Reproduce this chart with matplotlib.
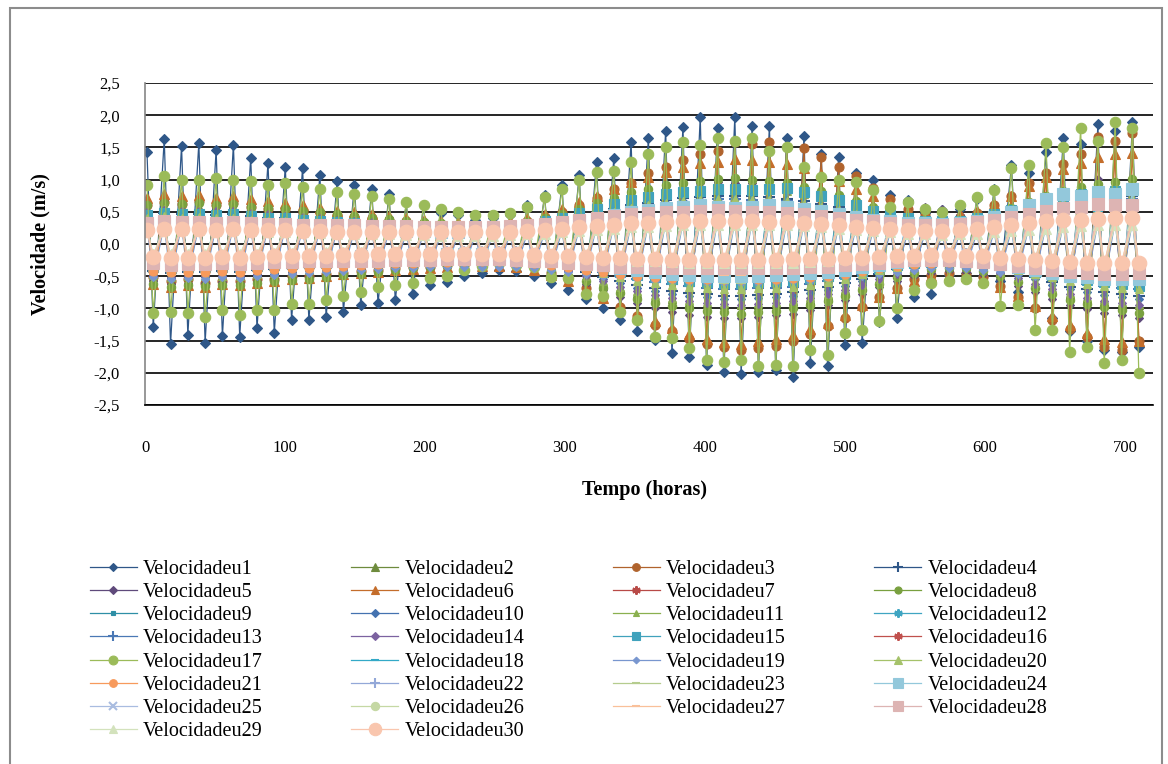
import numpy as np
import matplotlib.pyplot as plt
from matplotlib.patches import Rectangle

plt.rcParams['font.family'] = ['Liberation Serif', 'DejaVu Serif']

# extremos de cada ciclo de maré (cheia, vazante), em centésimos de m/s
u1 = [143, -129, 163, -155, 152, -141, 157, -153, 146, -143, 154, -144, 134, -131, 126, -138, 120, -118, 118, -118,
      107, -113, 98, -105, 92, -95, 85, -92, 78, -87, 65, -77, 60, -64, 48, -59, 45, -50, 37, -45,
      40, -40, 45, -42, 60, -50, 76, -60, 92, -72, 107, -85, 127, -100, 133, -118, 158, -135, 164, -149,
      176, -170, 182, -175, 197, -188, 180, -198, 197, -202, 183, -198, 183, -195, 164, -207, 168, -185, 140, -190,
      135, -157, 110, -154, 99, -121, 76, -115, 68, -82, 48, -77, 53, -48, 55, -45, 70, -50, 85, -58,
      122, -75, 110, -100, 143, -115, 164, -135, 155, -150, 186, -165, 175, -168, 190, -160]
u2 = [55, -50, 59, -54, 57, -52, 58, -53, 56, -51, 57, -52, 54, -49, 51, -47, 49, -45, 47, -44,
      45, -42, 42, -40, 40, -38, 38, -36, 36, -34, 33, -32, 31, -30, 30, -29, 28, -28, 27, -27,
      27, -27, 28, -28, 32, -32, 36, -37, 42, -44, 50, -52, 58, -60, 65, -68, 72, -76, 77, -82,
      82, -86, 86, -90, 88, -93, 90, -95, 90, -95, 89, -94, 87, -92, 85, -89, 80, -85, 75, -79,
      68, -72, 60, -64, 52, -55, 44, -47, 38, -40, 33, -35, 32, -33, 32, -34, 36, -38, 42, -45,
      50, -53, 58, -62, 67, -70, 74, -78, 79, -84, 84, -88, 87, -92, 90, -95]
u3 = [60, -52, 65, -58, 62, -55, 66, -60, 60, -57, 63, -58, 58, -55, 55, -54, 55, -50, 50, -50,
      48, -47, 45, -45, 42, -42, 40, -40, 38, -38, 35, -36, 33, -35, 30, -33, 30, -32, 28, -30,
      28, -30, 30, -32, 35, -36, 42, -45, 50, -55, 60, -68, 72, -82, 85, -98, 95, -112, 110, -125,
      120, -135, 130, -148, 140, -156, 145, -160, 158, -165, 155, -162, 158, -158, 150, -150, 149, -140, 135, -128,
      120, -115, 105, -98, 87, -82, 70, -68, 55, -55, 45, -48, 40, -45, 42, -46, 48, -52, 60, -65,
      75, -82, 95, -100, 110, -118, 125, -132, 140, -145, 166, -160, 160, -165, 172, -150]
u4 = [45, -42, 48, -45, 46, -43, 47, -44, 45, -42, 46, -43, 43, -41, 41, -39, 40, -37, 38, -36,
      36, -34, 34, -32, 32, -31, 30, -29, 29, -28, 27, -26, 25, -25, 24, -24, 22, -23, 22, -22,
      22, -22, 23, -23, 26, -27, 30, -31, 35, -37, 41, -44, 48, -51, 54, -58, 60, -64, 64, -69,
      68, -73, 71, -76, 73, -78, 75, -80, 75, -80, 74, -79, 73, -78, 70, -75, 67, -71, 62, -66,
      57, -61, 50, -54, 43, -46, 37, -39, 32, -34, 28, -30, 26, -28, 27, -29, 30, -32, 35, -38,
      42, -45, 49, -52, 55, -59, 61, -66, 66, -70, 70, -74, 73, -78, 75, -80]
u5 = [62, -58, 66, -62, 64, -60, 65, -61, 63, -59, 64, -60, 60, -57, 57, -55, 55, -53, 53, -51,
      50, -49, 47, -47, 45, -45, 42, -43, 40, -41, 37, -39, 35, -37, 33, -36, 31, -34, 30, -33,
      30, -33, 31, -34, 35, -38, 40, -45, 47, -53, 55, -62, 64, -72, 72, -82, 80, -92, 86, -99,
      90, -105, 93, -110, 95, -113, 96, -115, 95, -115, 94, -114, 92, -111, 89, -108, 85, -102, 79, -95,
      72, -87, 64, -77, 56, -67, 48, -57, 42, -49, 57, -45, 55, -42, 45, -43, 40, -47, 45, -55,
      54, -65, 63, -75, 72, -85, 80, -94, 86, -101, 101, -107, 95, -111, 98, -115]
u6 = [72, -62, 78, -66, 74, -63, 76, -66, 72, -62, 74, -64, 70, -60, 66, -58, 63, -55, 60, -53,
      56, -50, 52, -47, 50, -45, 47, -43, 44, -41, 40, -39, 38, -38, 36, -36, 34, -35, 33, -34,
      33, -34, 35, -35, 40, -40, 47, -48, 55, -58, 65, -70, 75, -84, 86, -96, 96, -108, 104, -120,
      112, -130, 120, -140, 126, -148, 128, -152, 132, -155, 130, -150, 128, -148, 124, -142, 118, -132, 108, -122,
      98, -110, 86, -95, 74, -82, 62, -68, 52, -57, 46, -50, 44, -48, 46, -50, 52, -56, 62, -66,
      75, -80, 90, -96, 104, -112, 116, -126, 126, -138, 135, -148, 140, -152, 142, -150]
u7 = [35, -32, 37, -34, 36, -33, 37, -34, 35, -33, 36, -33, 34, -32, 32, -30, 31, -29, 30, -28,
      28, -27, 27, -26, 25, -24, 24, -23, 23, -22, 21, -21, 20, -20, 19, -19, 18, -18, 17, -17,
      17, -17, 18, -18, 20, -21, 23, -24, 27, -29, 31, -34, 36, -39, 40, -44, 44, -48, 47, -52,
      50, -55, 52, -57, 54, -59, 55, -60, 55, -60, 54, -59, 53, -58, 52, -57, 49, -53, 46, -50,
      42, -46, 37, -41, 32, -35, 27, -30, 23, -26, 21, -23, 20, -22, 20, -22, 22, -24, 26, -28,
      31, -34, 36, -39, 41, -44, 45, -49, 48, -53, 51, -56, 53, -58, 55, -60]
u8 = [60, -62, 64, -66, 62, -64, 63, -65, 61, -63, 62, -64, 58, -60, 56, -58, 54, -56, 52, -54,
      49, -51, 46, -48, 44, -46, 41, -43, 39, -41, 36, -38, 34, -36, 32, -34, 30, -32, 29, -31,
      29, -31, 30, -32, 34, -36, 40, -42, 47, -50, 55, -58, 64, -68, 72, -76, 80, -85, 86, -91,
      91, -96, 95, -100, 98, -104, 101, -106, 102, -108, 100, -106, 98, -104, 94, -99, 89, -94, 83, -88,
      76, -80, 67, -71, 58, -62, 49, -52, 42, -45, 37, -39, 35, -37, 36, -38, 40, -42, 47, -50,
      56, -59, 65, -69, 74, -78, 82, -87, 88, -93, 93, -98, 97, -102, 101, -107]
u9 = [40, -38, 43, -41, 42, -40, 42, -40, 41, -39, 42, -40, 39, -37, 37, -35, 36, -34, 35, -33,
      33, -31, 31, -29, 29, -28, 27, -26, 26, -25, 24, -23, 23, -22, 21, -21, 20, -20, 20, -19,
      20, -19, 21, -20, 24, -23, 28, -27, 33, -32, 38, -37, 45, -43, 50, -48, 56, -54, 60, -58,
      64, -61, 66, -64, 69, -66, 70, -67, 70, -67, 69, -66, 68, -65, 66, -63, 62, -60, 58, -56,
      53, -51, 47, -45, 41, -39, 34, -33, 29, -28, 26, -25, 25, -24, 25, -24, 28, -27, 33, -32,
      39, -38, 46, -44, 52, -50, 57, -55, 62, -59, 65, -62, 68, -65, 70, -67]
u10 = [45, -50, 48, -53, 46, -51, 47, -52, 45, -50, 46, -51, 43, -48, 41, -46, 40, -44, 38, -42,
       36, -40, 34, -38, 32, -36, 30, -34, 29, -32, 27, -30, 25, -29, 24, -28, 22, -27, 22, -26,
       22, -26, 23, -27, 25, -30, 28, -34, 33, -40, 39, -47, 45, -54, 50, -61, 56, -68, 60, -73,
       64, -77, 66, -81, 69, -83, 70, -85, 70, -85, 69, -84, 68, -82, 66, -80, 62, -76, 58, -71,
       53, -65, 47, -57, 41, -49, 34, -42, 29, -36, 26, -32, 25, -30, 25, -31, 28, -34, 33, -40,
       39, -48, 46, -55, 52, -63, 57, -70, 62, -75, 65, -79, 68, -82, 70, -85]
u11 = [50, -48, 54, -51, 52, -50, 53, -50, 51, -49, 52, -50, 49, -47, 47, -45, 45, -43, 43, -41,
       41, -39, 38, -37, 37, -35, 34, -33, 33, -31, 30, -29, 29, -28, 27, -26, 26, -25, 25, -24,
       25, -24, 26, -25, 29, -30, 34, -35, 40, -42, 47, -50, 55, -58, 62, -66, 69, -73, 74, -79,
       79, -84, 83, -87, 86, -90, 88, -92, 89, -93, 88, -92, 86, -90, 83, -87, 78, -82, 73, -77,
       67, -70, 59, -62, 51, -54, 43, -45, 37, -39, 33, -34, 31, -32, 31, -33, 35, -37, 41, -43,
       49, -52, 57, -60, 65, -69, 72, -76, 77, -82, 82, -86, 85, -90, 88, -93]
u12 = [35, -33, 37, -35, 36, -34, 37, -35, 35, -33, 36, -34, 34, -32, 32, -31, 31, -30, 30, -29,
       28, -27, 27, -26, 25, -24, 24, -23, 23, -22, 21, -21, 20, -20, 19, -19, 18, -18, 17, -17,
       17, -17, 18, -18, 20, -20, 24, -24, 28, -28, 33, -33, 38, -38, 43, -43, 48, -48, 51, -51,
       54, -54, 57, -57, 59, -59, 60, -60, 60, -60, 59, -59, 58, -58, 56, -56, 53, -53, 50, -50,
       45, -45, 40, -40, 35, -35, 29, -29, 25, -25, 22, -22, 21, -21, 21, -21, 24, -24, 28, -28,
       34, -34, 39, -39, 44, -44, 49, -49, 53, -53, 56, -56, 58, -58, 60, -60]
u13 = [38, -36, 41, -38, 40, -37, 40, -38, 39, -36, 40, -37, 37, -35, 35, -33, 34, -32, 33, -31,
       31, -29, 29, -28, 28, -27, 26, -25, 25, -24, 23, -22, 22, -21, 20, -20, 19, -19, 19, -18,
       19, -18, 20, -19, 23, -22, 26, -26, 31, -31, 37, -37, 43, -43, 49, -49, 55, -55, 59, -59,
       62, -62, 65, -65, 68, -68, 70, -70, 70, -70, 69, -69, 68, -68, 66, -66, 62, -62, 58, -58,
       53, -53, 47, -47, 41, -41, 34, -34, 29, -29, 26, -26, 25, -25, 25, -25, 28, -28, 33, -33,
       39, -39, 46, -46, 52, -52, 57, -57, 62, -62, 65, -65, 68, -68, 70, -70]
u14 = [50, -48, 53, -51, 52, -50, 52, -50, 51, -49, 52, -50, 48, -46, 46, -44, 44, -42, 42, -40,
       40, -38, 38, -36, 36, -34, 34, -32, 32, -30, 30, -29, 28, -27, 27, -26, 25, -25, 25, -24,
       25, -24, 26, -25, 30, -30, 34, -35, 40, -42, 47, -50, 54, -58, 61, -66, 68, -73, 73, -79,
       77, -84, 81, -88, 83, -91, 85, -93, 85, -94, 84, -93, 82, -91, 80, -88, 76, -84, 71, -78,
       65, -72, 57, -63, 49, -55, 42, -47, 36, -40, 31, -35, 30, -33, 31, -34, 34, -38, 40, -45,
       48, -53, 55, -62, 63, -70, 70, -78, 75, -84, 79, -88, 82, -92, 85, -95]
u15 = [45, -35, 48, -37, 46, -36, 47, -36, 45, -35, 46, -36, 43, -34, 41, -32, 40, -31, 38, -30,
       36, -29, 34, -27, 32, -26, 30, -25, 29, -24, 27, -23, 26, -22, 25, -21, 25, -21, 26, -20,
       27, -20, 28, -21, 31, -23, 35, -26, 41, -30, 48, -34, 55, -39, 62, -44, 68, -48, 73, -52,
       77, -55, 81, -57, 83, -59, 85, -60, 85, -60, 84, -59, 86, -58, 87, -57, 80, -53, 74, -50,
       68, -46, 60, -42, 52, -37, 45, -33, 40, -30, 36, -28, 35, -27, 36, -28, 40, -30, 46, -33,
       53, -38, 60, -43, 67, -48, 73, -52, 77, -56, 80, -59, 83, -62, 85, -65]
u16 = [28, -27, 30, -29, 29, -28, 29, -28, 28, -27, 29, -28, 27, -26, 26, -25, 25, -24, 24, -23,
       23, -22, 22, -21, 21, -20, 20, -19, 19, -18, 18, -17, 17, -16, 16, -16, 15, -15, 15, -15,
       15, -15, 16, -15, 17, -17, 20, -20, 24, -24, 28, -28, 32, -32, 36, -36, 40, -40, 43, -43,
       45, -45, 47, -47, 49, -49, 50, -50, 50, -50, 49, -49, 48, -48, 47, -47, 44, -44, 41, -41,
       38, -38, 33, -33, 29, -29, 25, -25, 21, -21, 19, -19, 18, -18, 18, -18, 20, -20, 24, -24,
       28, -28, 33, -33, 37, -37, 41, -41, 44, -44, 47, -47, 49, -49, 50, -50]
u17 = [92, -107, 105, -105, 100, -107, 100, -113, 102, -103, 100, -110, 98, -103, 92, -103, 95, -93, 88, -93,
       85, -87, 80, -80, 78, -75, 75, -67, 70, -64, 65, -60, 60, -53, 55, -50, 50, -40, 45, -34,
       45, -30, 48, -33, 58, -35, 73, -51, 85, -53, 100, -77, 112, -80, 114, -105, 127, -118, 140, -144,
       150, -146, 158, -162, 153, -180, 164, -183, 160, -180, 164, -190, 145, -188, 150, -190, 120, -165, 104, -172,
       100, -138, 96, -133, 84, -120, 57, -100, 65, -72, 55, -60, 50, -58, 60, -55, 73, -60, 84, -97,
       118, -95, 123, -134, 157, -134, 150, -168, 180, -160, 160, -185, 190, -180, 180, -200]
u18 = [32, -30, 34, -32, 33, -31, 34, -32, 32, -30, 33, -31, 31, -29, 29, -28, 28, -27, 27, -26,
       26, -25, 24, -23, 23, -22, 22, -21, 21, -20, 19, -19, 18, -18, 17, -17, 17, -16, 16, -16,
       16, -16, 17, -17, 19, -19, 22, -22, 26, -26, 30, -30, 35, -35, 40, -40, 44, -44, 47, -47,
       50, -50, 52, -52, 54, -54, 55, -55, 55, -55, 54, -54, 53, -53, 52, -52, 49, -49, 46, -46,
       42, -42, 37, -37, 32, -32, 27, -27, 23, -23, 21, -21, 20, -20, 20, -20, 22, -22, 26, -26,
       31, -31, 36, -36, 41, -41, 45, -45, 49, -49, 51, -51, 53, -53, 55, -55]
u19 = [28, -52, 30, -55, 29, -53, 29, -54, 28, -52, 29, -53, 27, -50, 26, -48, 25, -47, 24, -45,
       23, -44, 22, -42, 21, -40, 20, -39, 19, -38, 18, -37, 17, -36, 16, -36, 16, -35, 15, -35,
       15, -35, 16, -36, 17, -38, 19, -40, 21, -43, 24, -46, 27, -49, 29, -52, 31, -55, 32, -57,
       33, -58, 34, -59, 35, -60, 35, -60, 35, -60, 35, -60, 34, -59, 33, -58, 32, -57, 30, -55,
       28, -52, 25, -49, 22, -46, 20, -43, 18, -40, 17, -38, 16, -37, 16, -38, 18, -40, 20, -43,
       23, -46, 26, -50, 29, -53, 31, -56, 33, -58, 34, -59, 35, -60, 35, -60]
u20 = [40, -40, 43, -42, 41, -41, 42, -41, 40, -40, 41, -41, 38, -38, 36, -37, 35, -35, 34, -34,
       32, -32, 30, -31, 29, -29, 27, -27, 26, -26, 24, -24, 22, -23, 21, -22, 20, -20, 19, -20,
       19, -20, 20, -21, 23, -24, 27, -28, 32, -33, 38, -39, 44, -45, 50, -51, 56, -57, 60, -61,
       63, -64, 66, -67, 68, -69, 70, -70, 70, -70, 69, -69, 68, -68, 66, -66, 62, -63, 58, -59,
       53, -54, 47, -47, 41, -41, 34, -35, 29, -30, 26, -26, 25, -25, 25, -25, 28, -28, 33, -33,
       39, -40, 46, -46, 52, -52, 57, -58, 62, -62, 65, -65, 68, -68, 70, -70]
u21 = [32, -42, 34, -44, 33, -43, 33, -44, 32, -42, 33, -43, 31, -41, 30, -39, 29, -38, 28, -37,
       27, -35, 26, -34, 25, -32, 24, -31, 23, -30, 22, -29, 21, -28, 20, -28, 20, -27, 19, -27,
       19, -27, 20, -28, 22, -30, 24, -33, 27, -36, 30, -40, 33, -44, 36, -47, 39, -50, 41, -52,
       42, -53, 43, -54, 44, -55, 45, -55, 45, -55, 44, -55, 44, -54, 43, -53, 41, -51, 39, -49,
       36, -46, 33, -42, 29, -38, 26, -34, 23, -31, 21, -29, 20, -28, 20, -28, 22, -30, 25, -33,
       29, -37, 33, -41, 36, -45, 39, -49, 42, -51, 43, -53, 44, -54, 45, -55]
u22 = [25, -24, 27, -26, 26, -25, 26, -25, 25, -24, 26, -25, 24, -23, 23, -22, 22, -21, 21, -20,
       20, -19, 19, -18, 18, -17, 17, -16, 16, -16, 15, -15, 14, -14, 14, -13, 13, -13, 13, -12,
       13, -12, 14, -13, 15, -15, 17, -17, 20, -20, 24, -23, 27, -27, 31, -30, 35, -34, 38, -37,
       40, -39, 42, -41, 44, -43, 45, -44, 45, -44, 44, -43, 44, -43, 42, -41, 40, -39, 37, -36,
       34, -33, 30, -29, 26, -25, 22, -22, 19, -19, 17, -17, 16, -16, 16, -16, 18, -18, 21, -21,
       25, -25, 29, -29, 33, -33, 37, -36, 40, -39, 42, -41, 44, -43, 45, -44]
u23 = [32, -30, 34, -32, 33, -31, 34, -32, 32, -30, 33, -31, 31, -29, 29, -28, 28, -27, 27, -26,
       26, -25, 24, -23, 23, -22, 22, -21, 21, -20, 19, -19, 18, -18, 17, -17, 17, -16, 16, -16,
       16, -16, 17, -17, 20, -20, 23, -23, 28, -28, 33, -33, 38, -38, 43, -43, 48, -48, 52, -52,
       55, -55, 57, -57, 59, -59, 60, -60, 60, -60, 59, -59, 58, -58, 56, -56, 53, -53, 50, -50,
       46, -46, 40, -40, 35, -35, 29, -29, 25, -25, 22, -22, 21, -21, 22, -22, 24, -24, 28, -28,
       34, -34, 39, -39, 44, -44, 49, -49, 53, -53, 56, -56, 58, -58, 60, -60]
u24 = [30, -25, 32, -27, 31, -26, 31, -26, 30, -25, 31, -26, 29, -24, 28, -23, 27, -23, 26, -22,
       25, -21, 24, -20, 23, -19, 22, -18, 21, -18, 20, -17, 20, -17, 19, -16, 19, -16, 20, -16,
       21, -17, 22, -18, 24, -20, 27, -22, 31, -25, 36, -29, 40, -33, 45, -37, 50, -41, 53, -44,
       56, -46, 58, -48, 60, -50, 58, -50, 56, -50, 58, -49, 60, -48, 58, -47, 55, -45, 52, -43,
       47, -40, 42, -36, 38, -32, 35, -28, 33, -25, 32, -23, 31, -22, 33, -24, 36, -27, 42, -31,
       50, -36, 60, -41, 70, -45, 78, -49, 75, -52, 80, -54, 78, -55, 85, -55]
u25 = [22, -21, 24, -22, 23, -22, 23, -22, 22, -21, 23, -22, 21, -20, 20, -19, 20, -19, 19, -18,
       18, -17, 17, -16, 16, -15, 15, -14, 14, -14, 13, -13, 13, -12, 12, -12, 12, -11, 11, -11,
       11, -11, 12, -12, 13, -13, 15, -15, 18, -18, 21, -21, 24, -24, 28, -28, 31, -31, 34, -34,
       36, -36, 38, -38, 39, -39, 40, -40, 40, -40, 39, -39, 39, -39, 38, -38, 36, -36, 33, -33,
       30, -30, 27, -27, 23, -23, 20, -20, 17, -17, 15, -15, 14, -14, 14, -14, 16, -16, 19, -19,
       22, -22, 26, -26, 29, -29, 33, -33, 35, -35, 37, -37, 39, -39, 40, -40]
u26 = [30, -22, 32, -23, 31, -23, 31, -23, 30, -22, 31, -23, 29, -21, 28, -20, 27, -20, 26, -19,
       25, -18, 24, -17, 23, -17, 22, -16, 21, -15, 20, -15, 19, -14, 18, -14, 18, -13, 17, -13,
       17, -13, 18, -13, 20, -15, 22, -17, 26, -19, 29, -22, 33, -25, 36, -27, 39, -30, 41, -31,
       43, -33, 44, -34, 45, -35, 45, -35, 45, -35, 45, -35, 44, -34, 43, -33, 41, -32, 39, -30,
       36, -28, 32, -25, 28, -22, 25, -19, 22, -17, 20, -15, 19, -15, 19, -15, 21, -16, 24, -18,
       28, -21, 32, -24, 35, -27, 39, -30, 42, -32, 43, -33, 44, -34, 45, -35]
u27 = [28, -26, 30, -28, 29, -27, 29, -27, 28, -26, 29, -27, 27, -25, 26, -24, 25, -23, 24, -22,
       23, -21, 22, -20, 21, -19, 20, -18, 19, -18, 18, -17, 17, -16, 16, -15, 15, -15, 15, -14,
       15, -14, 16, -15, 17, -16, 20, -19, 24, -22, 28, -26, 32, -30, 36, -34, 40, -38, 43, -41,
       45, -43, 47, -45, 49, -47, 50, -48, 50, -48, 49, -47, 48, -46, 47, -45, 44, -42, 41, -39,
       38, -36, 33, -32, 29, -28, 25, -24, 21, -20, 19, -18, 18, -17, 18, -17, 20, -19, 24, -23,
       28, -27, 33, -31, 37, -35, 41, -39, 44, -42, 47, -45, 49, -47, 50, -48]
u28 = [33, -30, 35, -32, 34, -31, 34, -31, 33, -30, 34, -31, 32, -29, 31, -28, 31, -28, 30, -27,
       30, -27, 29, -26, 29, -26, 28, -26, 28, -25, 28, -25, 27, -25, 27, -24, 27, -24, 27, -24,
       27, -24, 28, -25, 29, -26, 31, -27, 34, -29, 37, -31, 40, -33, 43, -35, 46, -36, 48, -37,
       49, -38, 50, -38, 52, -38, 53, -38, 52, -38, 50, -38, 49, -37, 48, -37, 46, -36, 44, -35,
       41, -33, 38, -31, 35, -29, 32, -27, 30, -25, 30, -25, 30, -25, 31, -26, 34, -28, 38, -31,
       42, -34, 47, -37, 52, -40, 56, -43, 58, -45, 62, -47, 60, -46, 60, -45]
u29 = [20, -15, 21, -16, 21, -16, 21, -16, 20, -15, 21, -16, 20, -15, 19, -14, 18, -14, 18, -14,
       17, -13, 16, -13, 16, -12, 15, -12, 15, -12, 14, -12, 14, -12, 13, -12, 13, -12, 13, -12,
       13, -12, 14, -13, 15, -14, 16, -16, 18, -18, 20, -20, 22, -22, 24, -24, 26, -26, 27, -27,
       28, -28, 29, -29, 30, -30, 30, -30, 30, -30, 30, -30, 29, -29, 29, -29, 28, -28, 26, -26,
       24, -24, 22, -22, 20, -20, 18, -18, 16, -16, 15, -15, 14, -15, 15, -16, 16, -18, 18, -20,
       20, -22, 22, -24, 24, -26, 26, -28, 28, -29, 29, -30, 29, -30, 30, -30]
u30 = [22, -20, 24, -21, 23, -21, 23, -21, 22, -20, 23, -21, 22, -20, 21, -19, 21, -19, 20, -18,
       20, -18, 19, -17, 19, -17, 19, -16, 18, -16, 18, -16, 18, -15, 18, -15, 18, -15, 18, -15,
       18, -15, 19, -16, 20, -17, 22, -18, 24, -19, 26, -20, 28, -21, 30, -22, 32, -23, 33, -24,
       34, -25, 35, -25, 35, -25, 35, -25, 35, -25, 35, -25, 34, -25, 34, -24, 33, -24, 31, -23,
       29, -22, 27, -21, 25, -20, 23, -19, 21, -18, 20, -17, 20, -17, 21, -18, 23, -19, 26, -21,
       29, -23, 32, -25, 35, -27, 37, -28, 38, -29, 39, -30, 40, -30, 40, -30]

series = [u1, u2, u3, u4, u5, u6, u7, u8, u9, u10, u11, u12, u13, u14, u15,
          u16, u17, u18, u19, u20, u21, u22, u23, u24, u25, u26, u27, u28, u29, u30]
for i, v in enumerate(series):
    assert len(v) == 116, f"u{i + 1}: {len(v)}"

# instante de cada cheia e da vazante seguinte (horas)
ciclo = np.arange(58)
t_cheia = 1.4 + 12.35 * ciclo
t_vazante = t_cheia + 4.5
tempo = np.column_stack([t_cheia, t_vazante]).ravel()

asterisco = (6, 2, 0)
estilos = [
    ('#2F5788', 'D', 5), ('#6E8B3D', '^', 6), ('#B0632D', 'o', 6.5), ('#2F5788', '+', 8),
    ('#5F4A7B', 'D', 4.5), ('#C46D2B', '^', 7), ('#B84A47', asterisco, 7), ('#79A03F', 'o', 6),
    ('#2E8FA6', 's', 3), ('#4472B0', 'D', 4.5), ('#8AB04F', '^', 5.5), ('#3FA5C2', asterisco, 7),
    ('#4A78B5', '+', 8), ('#7C62A0', 'D', 4.5), ('#40A2BC', 's', 6.5), ('#C0504D', asterisco, 7),
    ('#9BBB59', 'o', 7.5), ('#33A9C7', '_', 7), ('#7896CF', 'D', 4), ('#A5C26A', '^', 6),
    ('#F79A5C', 'o', 6.5), ('#93A8D8', '+', 8), ('#B5CC8E', '_', 7), ('#93C8DB', 's', 8),
    ('#A9BCE0', 'x', 6), ('#C5D8A4', 'o', 7), ('#F9C09A', '_', 7), ('#DDB4B3', 's', 8.5),
    ('#D3E2BC', '^', 7.5), ('#F9C6AE', 'o', 10.5),
]

W, H = 1168, 764
fig = plt.figure(figsize=(W / 100, H / 100), dpi=100)
ax = fig.add_axes([145 / W, 1 - 405 / H, 1008 / W, 322 / H])

linhas = []
for i, (vals, (cor, mk, ms)) in enumerate(zip(series, estilos)):
    mew = 1.5 if mk in ('+', '_', 'x', asterisco) else 0.8
    ln, = ax.plot(tempo, np.array(vals) / 100, color=cor, lw=0.9, marker=mk, ms=ms,
                  mfc=cor, mec=cor, mew=mew, label=f'Velocidadeu{i + 1}')
    linhas.append(ln)

ax.set_xlim(0, 720)
ax.set_ylim(-2.5, 2.5)
ax.set_xticks(np.arange(0, 701, 100))
yt = np.arange(-2.5, 2.51, 0.5)
ax.set_yticks(yt)
ax.set_yticklabels([f'{v:.1f}'.replace('.', ',') for v in yt])
ax.tick_params(length=0, labelsize=12)
ax.tick_params(axis='y', pad=18)
ax.tick_params(axis='x', pad=25)
ax.grid(axis='y', color='black', lw=1.2)
ax.set_axisbelow(True)
for s in ('top', 'right'):
    ax.spines[s].set_visible(False)
ax.spines['left'].set_color('#868686')
ax.spines['left'].set_linewidth(1.2)
ax.spines['bottom'].set_color('black')
ax.spines['bottom'].set_linewidth(1.2)

fig.text(40 / W, 1 - 244 / H, 'Velocidade (m/s)', rotation=90, ha='center', va='center',
         fontsize=14.5, fontweight='bold')
fig.text(645 / W, 1 - 490 / H, 'Tempo (horas)', ha='center', va='center',
         fontsize=14.5, fontweight='bold')

# legenda em 4 colunas, preenchida por linhas
ordem = [j for c in range(4) for j in range(c, 30, 4)]
fig.legend([linhas[j] for j in ordem], [linhas[j].get_label() for j in ordem],
           loc='upper left', bbox_to_anchor=(90 / W, 1 - 560 / H), ncol=4, frameon=False,
           fontsize=14.5, borderpad=0, borderaxespad=0, labelspacing=0.2,
           handlelength=2.33, handletextpad=0.3, columnspacing=4.4, markerscale=0.85)

fig.patches.append(Rectangle((10 / W, -0.01), (1162 - 10) / W, 1.01 - 8 / H,
                             transform=fig.transFigure, fill=False,
                             edgecolor='#8C8C8C', lw=1.5))

fig.savefig('out.png', dpi=100)
